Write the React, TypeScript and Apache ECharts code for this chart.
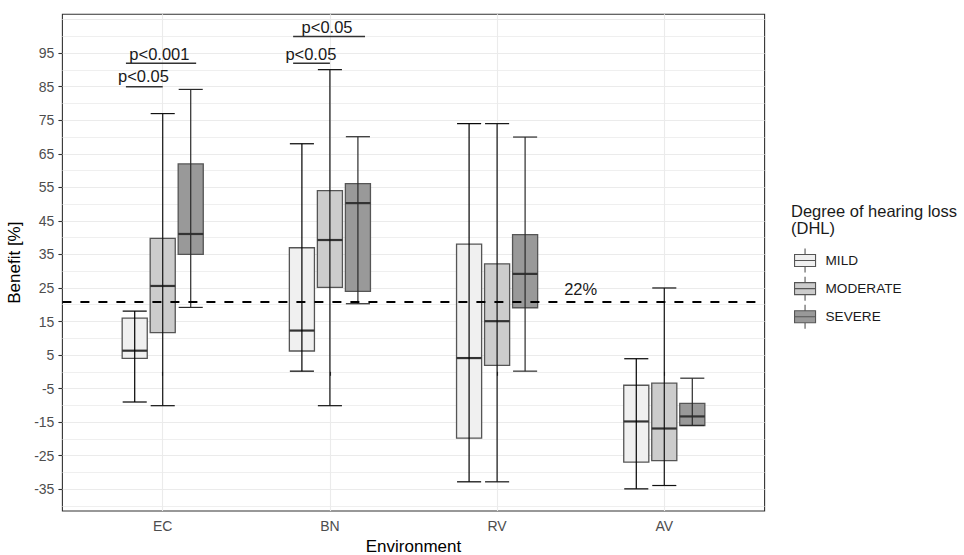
import React, { useEffect, useRef } from 'react';
import * as echarts from 'echarts';

// ---------- data ----------
const environments = ['EC', 'BN', 'RV', 'AV'];
const levels = ['MILD', 'MODERATE', 'SEVERE'];
// per environment: [lower whisker, Q1, median, Q3, upper whisker]
const mildStats = [
  [-9, 4, 6.3, 16, 18.1],
  [0.2, 6.2, 12.3, 37, 68],
  [-32.8, -19.8, 4.1, 38.1, 74],
  [-34.9, -26.9, -14.8, -4, 3.9],
];
const moderateStats = [
  [-10.1, 11.7, 25.6, 39.8, 77],
  [-10.1, 25.2, 39.3, 54, 90.1],
  [-32.8, 1.9, 15.1, 32.2, 74],
  [-33.9, -26.5, -16.9, -3.4, 25],
];
const severeStats = [
  [19.2, 35, 41.1, 62, 84.2],
  [20.3, 24, 50.3, 56.1, 70.1],
  [0.2, 19.1, 29.2, 40.9, 70],
  [-16, -16, -13.3, -9.4, -1.9],
];
const yTickLabels = [-35, -25, -15, -5, 5, 15, 25, 35, 45, 55, 65, 75, 85, 95];
const yMajorGrid = [-35, -25, -15, -5, 5, 15, 25, 35, 45, 55, 65, 75, 85, 95, 105];
const yMinorGrid = [-40, -30, -20, -10, 0, 10, 20, 30, 40, 50, 60, 70, 80, 90, 100];
const thresholdValue = 21;
const thresholdLabel = '22%';
const thresholdLabelPos = [3.5, 24.6];
// significance brackets
const sigLabels = ['p<0.05', 'p<0.001', 'p<0.05', 'p<0.05'];
const sigX1 = [0.78, 0.78, 1.78, 1.78];
const sigX2 = [1.0, 1.2, 2.0, 2.21];
const sigY = [85, 92, 92, 100];
const sigTextX = [0.885, 0.98, 1.886, 1.983];
const sigTextY = [88.1, 94.85, 94.7, 102.9];

// ---------- styles ----------
const FONT = '"Liberation Sans", Arial, sans-serif';
const levelColors = ['#f0f0f0', '#cccccc', '#999999'];
const whiskerColors = ['#000000', '#111111', '#2a2a2a'];
const dodge = [-0.1675, 0, 0.1675];
const boxWidth = 0.15;
const capWidth = 0.144;
const allStats = [mildStats, moderateStats, severeStats];

function makeBoxSeries(li: number) {
  return {
    type: 'custom',
    name: levels[li],
    z: 3,
    itemStyle: { color: levelColors[li], borderColor: '#555555', borderWidth: 1.1 },
    data: allStats[li].map((s, i) => [i + 1, ...s]),
    encode: { x: 0, y: [1, 2, 3, 4, 5] },
    renderItem: (params: any, api: any) => {
      const x = api.value(0) + dodge[li];
      const pLo = api.coord([x, api.value(1)]);
      const pQ1 = api.coord([x, api.value(2)]);
      const pMed = api.coord([x, api.value(3)]);
      const pQ3 = api.coord([x, api.value(4)]);
      const pHi = api.coord([x, api.value(5)]);
      const bw = api.size([boxWidth, 0])[0];
      const cw = api.size([capWidth, 0])[0];
      const cx = pLo[0];
      const wc = whiskerColors[li];
      return {
        type: 'group',
        children: [
          {
            type: 'rect',
            shape: { x: cx - bw / 2, y: pQ3[1], width: bw, height: pQ1[1] - pQ3[1] },
            style: { fill: levelColors[li], stroke: '#555555', lineWidth: 1.3 },
          },
          {
            type: 'line',
            shape: { x1: cx - bw / 2, y1: pMed[1], x2: cx + bw / 2, y2: pMed[1] },
            style: { stroke: '#333333', lineWidth: 2.2 },
          },
          {
            type: 'line',
            shape: { x1: cx, y1: pLo[1], x2: cx, y2: pHi[1] },
            style: { stroke: wc, lineWidth: 1.2 },
          },
          {
            type: 'line',
            shape: { x1: cx - cw / 2, y1: pLo[1], x2: cx + cw / 2, y2: pLo[1] },
            style: { stroke: wc, lineWidth: 1.2 },
          },
          {
            type: 'line',
            shape: { x1: cx - cw / 2, y1: pHi[1], x2: cx + cw / 2, y2: pHi[1] },
            style: { stroke: wc, lineWidth: 1.2 },
          },
        ],
      };
    },
    markLine:
      li === 0
        ? {
            silent: true,
            symbol: 'none',
            animation: false,
            label: { show: false },
            lineStyle: { color: '#000000', type: [9, 9], width: 2.2 },
            data: [{ yAxis: thresholdValue }],
            z: 6,
          }
        : undefined,
  };
}

export default function App() {
  const ref = useRef<HTMLDivElement>(null);
  useEffect(() => {
    if (!ref.current) return;
    const chart = echarts.init(ref.current, undefined, { renderer: 'svg' });
    const annotationData = sigLabels.map((_, i) => [sigX1[i], sigX2[i], sigY[i], sigTextX[i], sigTextY[i], i]);
    const option: any = {
      animation: false,
      backgroundColor: '#ffffff',
      textStyle: { fontFamily: FONT },
      title: {
        text: 'Degree of hearing loss\n(DHL)',
        left: 791,
        top: 202,
        padding: 0,
        textStyle: { fontSize: 16.5, fontWeight: 'normal', color: '#1a1a1a', lineHeight: 17.5, fontFamily: FONT },
      },
      legend: {
        orient: 'vertical',
        left: 794,
        top: 248,
        padding: 0,
        itemWidth: 21,
        itemHeight: 24,
        itemGap: 3,
        icon: 'path://M0,6H21V18H0Z M0,12H21 M10.5,0V6 M10.5,18V24',
        itemStyle: { borderColor: '#555555', borderWidth: 1.1 },
        textStyle: { fontSize: 13.6, color: '#1a1a1a', fontFamily: FONT, padding: [0, 0, 0, 5] },
        selectedMode: false,
        data: levels,
      },
      grid: {
        left: 62.4,
        right: 199.4,
        top: 14.3,
        bottom: 44,
        show: true,
        borderColor: '#333333',
        borderWidth: 1.1,
        backgroundColor: 'transparent',
        containLabel: false,
        outerBoundsMode: 'none',
      },
      xAxis: {
        type: 'value',
        min: 0.4,
        max: 4.6,
        name: 'Environment',
        nameLocation: 'middle',
        nameGap: 23,
        nameTextStyle: { fontSize: 17, color: '#000000', fontFamily: FONT },
        axisLine: { show: false },
        axisTick: { show: true, length: 4, customValues: [1, 2, 3, 4], lineStyle: { color: '#333333', width: 1.1 } },
        axisLabel: {
          customValues: [1, 2, 3, 4],
          formatter: (v: number) => environments[Math.round(v) - 1] ?? '',
          fontSize: 14,
          color: '#4d4d4d',
          margin: 8,
          fontFamily: FONT,
        },
        splitLine: { show: true, lineStyle: { color: '#ebebeb', width: 1.1 } },
      },
      yAxis: [
        {
          type: 'value',
          min: -41.5,
          max: 106.6,
          name: 'Benefit [%]',
          nameLocation: 'middle',
          nameGap: 30,
          nameTextStyle: { fontSize: 17, color: '#000000', fontFamily: FONT },
          axisLine: { show: false },
          axisTick: { show: true, length: 4, customValues: yTickLabels, lineStyle: { color: '#333333', width: 1.1 } },
          axisLabel: { customValues: yTickLabels, fontSize: 14, color: '#4d4d4d', margin: 8, fontFamily: FONT },
          splitLine: { show: false },
        },
        {
          type: 'value',
          min: -41.5,
          max: 106.6,
          position: 'left',
          axisLine: { show: false },
          axisTick: { show: false, customValues: yMajorGrid },
          axisLabel: { show: false, customValues: yMajorGrid },
          splitLine: { show: true, lineStyle: { color: '#ebebeb', width: 1.1 } },
        },
        {
          type: 'value',
          min: -41.5,
          max: 106.6,
          position: 'left',
          axisLine: { show: false },
          axisTick: { show: false, customValues: yMinorGrid },
          axisLabel: { show: false, customValues: yMinorGrid },
          splitLine: { show: true, lineStyle: { color: '#ebebeb', width: 0.8 } },
        },
      ],
      series: [
        makeBoxSeries(0),
        makeBoxSeries(1),
        makeBoxSeries(2),
        {
          type: 'custom',
          name: 'annotations',
          z: 5,
          data: annotationData,
          encode: { x: [0, 1], y: 2 },
          renderItem: (params: any, api: any) => {
            const i = api.value(5);
            const p1 = api.coord([api.value(0), api.value(2)]);
            const p2 = api.coord([api.value(1), api.value(2)]);
            const pt = api.coord([api.value(3), api.value(4)]);
            return {
              type: 'group',
              children: [
                { type: 'line', shape: { x1: p1[0], y1: p1[1], x2: p2[0], y2: p2[1] }, style: { stroke: '#333333', lineWidth: 1.5 } },
                {
                  type: 'text',
                  x: pt[0],
                  y: pt[1],
                  style: { text: sigLabels[i], align: 'center', verticalAlign: 'middle', fontSize: 16.5, fontFamily: FONT, fill: '#1a1a1a' },
                },
              ],
            };
          },
        },
        {
          type: 'custom',
          name: 'thresholdLabel',
          z: 5,
          data: [thresholdLabelPos],
          renderItem: (params: any, api: any) => {
            const p = api.coord([api.value(0), api.value(1)]);
            return {
              type: 'text',
              x: p[0],
              y: p[1],
              style: { text: thresholdLabel, align: 'center', verticalAlign: 'middle', fontSize: 16.5, fontFamily: FONT, fill: '#1a1a1a' },
            };
          },
        },
      ],
    };
    chart.setOption(option);
    return () => chart.dispose();
  }, []);
  return (
    <div style={{ position: 'absolute', left: 0, top: 0 }}>
      <div ref={ref} style={{ width: 964, height: 555 }} />
    </div>
  );
}
